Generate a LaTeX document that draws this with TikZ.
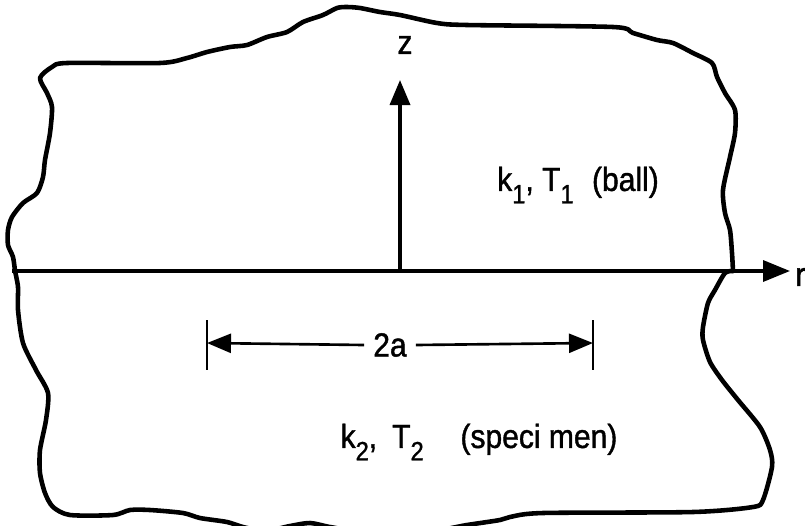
\documentclass[tikz,border=0pt]{standalone}
\usepackage{fontspec}
\setmainfont{Liberation Sans}[FakeStretch=0.9,FakeBold=1.2]
\usepackage{xcolor}
\usepackage{tikz}
\usetikzlibrary{arrows.meta}
\definecolor{CTInk}{HTML}{000000}
\newcommand{\lsub}[1]{\raisebox{-0.7ex}{\fontsize{15}{15}\selectfont #1}}
\tikzset{
  edge/.style={CTInk,line width=2.6pt,line join=round,line cap=round},
  axis/.style={CTInk,line width=2pt},
  dimline/.style={CTInk,line width=1.5pt},
  lbl/.style={text=CTInk,inner sep=0pt,font=\fontsize{19}{21}\selectfont}
}
\begin{document}
\begin{tikzpicture}[x=0.02cm,y=-0.02cm]
\path[use as bounding box] (0,0) rectangle (805,525);
% body outline, ball above the axis
\draw[edge] plot[smooth,tension=0.45] coordinates {(15,271) (13,257) (8,245) (8,230) (12,217) (23,203) (37,193) (43,177) (45,160) (50,133) (52,107) (47,93) (40,78) (52,67) (67,63) (160,63) (187,58) (207,52) (230,47) (247,45) (267,37) (287,32) (303,22) (323,15) (337,8) (347,7) (360,8) (380,12) (400,15) (437,23) (467,25) (613,27) (633,33) (657,40) (673,43) (693,53) (712,63) (717,77) (725,93) (735,110) (735,133) (730,157) (723,190) (725,213) (730,230) (732,253) (733,271)};
% specimen below the axis
\draw[edge] plot[smooth,tension=0.45] coordinates {(15,271) (18,287) (18,310) (23,343) (36,370) (48,393) (46,420) (40,450) (40,473) (45,493) (53,507) (70,515) (113,515) (130,510) (150,510) (183,513) (200,518) (227,522) (243,527) (265,531) (290,526) (310,523) (330,527) (360,531) (430,531) (467,525) (500,520) (510,517) (543,513) (693,512) (753,507) (763,500) (772,467) (770,450) (760,427) (738,400) (722,380) (710,362) (703,340) (703,327) (708,303) (715,290) (725,273) (733,271)};
% axes
\coordinate (axL) at (12,271);
\coordinate (O) at (400,271);
\coordinate (rtip) at (790,271);
\coordinate (ztip) at (400,80);
\coordinate (cL) at (205,271);
\coordinate (cR) at (595,271);
\draw[axis,-{Triangle[length=5.4mm,width=4.2mm]}] (axL) -- (rtip);
\draw[axis,-{Triangle[length=5mm,width=4mm]}] (O) -- (ztip);
\draw[CTInk,line width=2.7pt] (cL) -- (cR);
\node[lbl,anchor=west] (rlab) at (795,277) {r};
\node[lbl] (zlab) at (405,45) {z};
\node[lbl] (ball) at (578,185) {k\lsub{1}, T\lsub{1}\hspace{0.55em}(ball)};
% contact width
\coordinate (dimL) at (207,343);
\coordinate (dimR) at (593,343);
\coordinate (tickLt) at (207,320);
\coordinate (tickLb) at (207,370);
\coordinate (tickRt) at (593,320);
\coordinate (tickRb) at (593,370);
\draw[dimline] (tickLt) -- (tickLb);
\draw[dimline] (tickRt) -- (tickRb);
\node[lbl,fill=white,inner xsep=5pt] (twoa) at (390,345) {2a};
\draw[dimline,-{Triangle[length=4.8mm,width=3.8mm]}] (twoa.west) -- (dimL);
\draw[dimline,-{Triangle[length=4.8mm,width=3.8mm]}] (twoa.east) -- (dimR);
\node[lbl] (spec) at (479,442) {k\lsub{2},\hspace{0.45em}T\lsub{2}\hspace{1.1em}(speci men)};
\end{tikzpicture}
\end{document}
